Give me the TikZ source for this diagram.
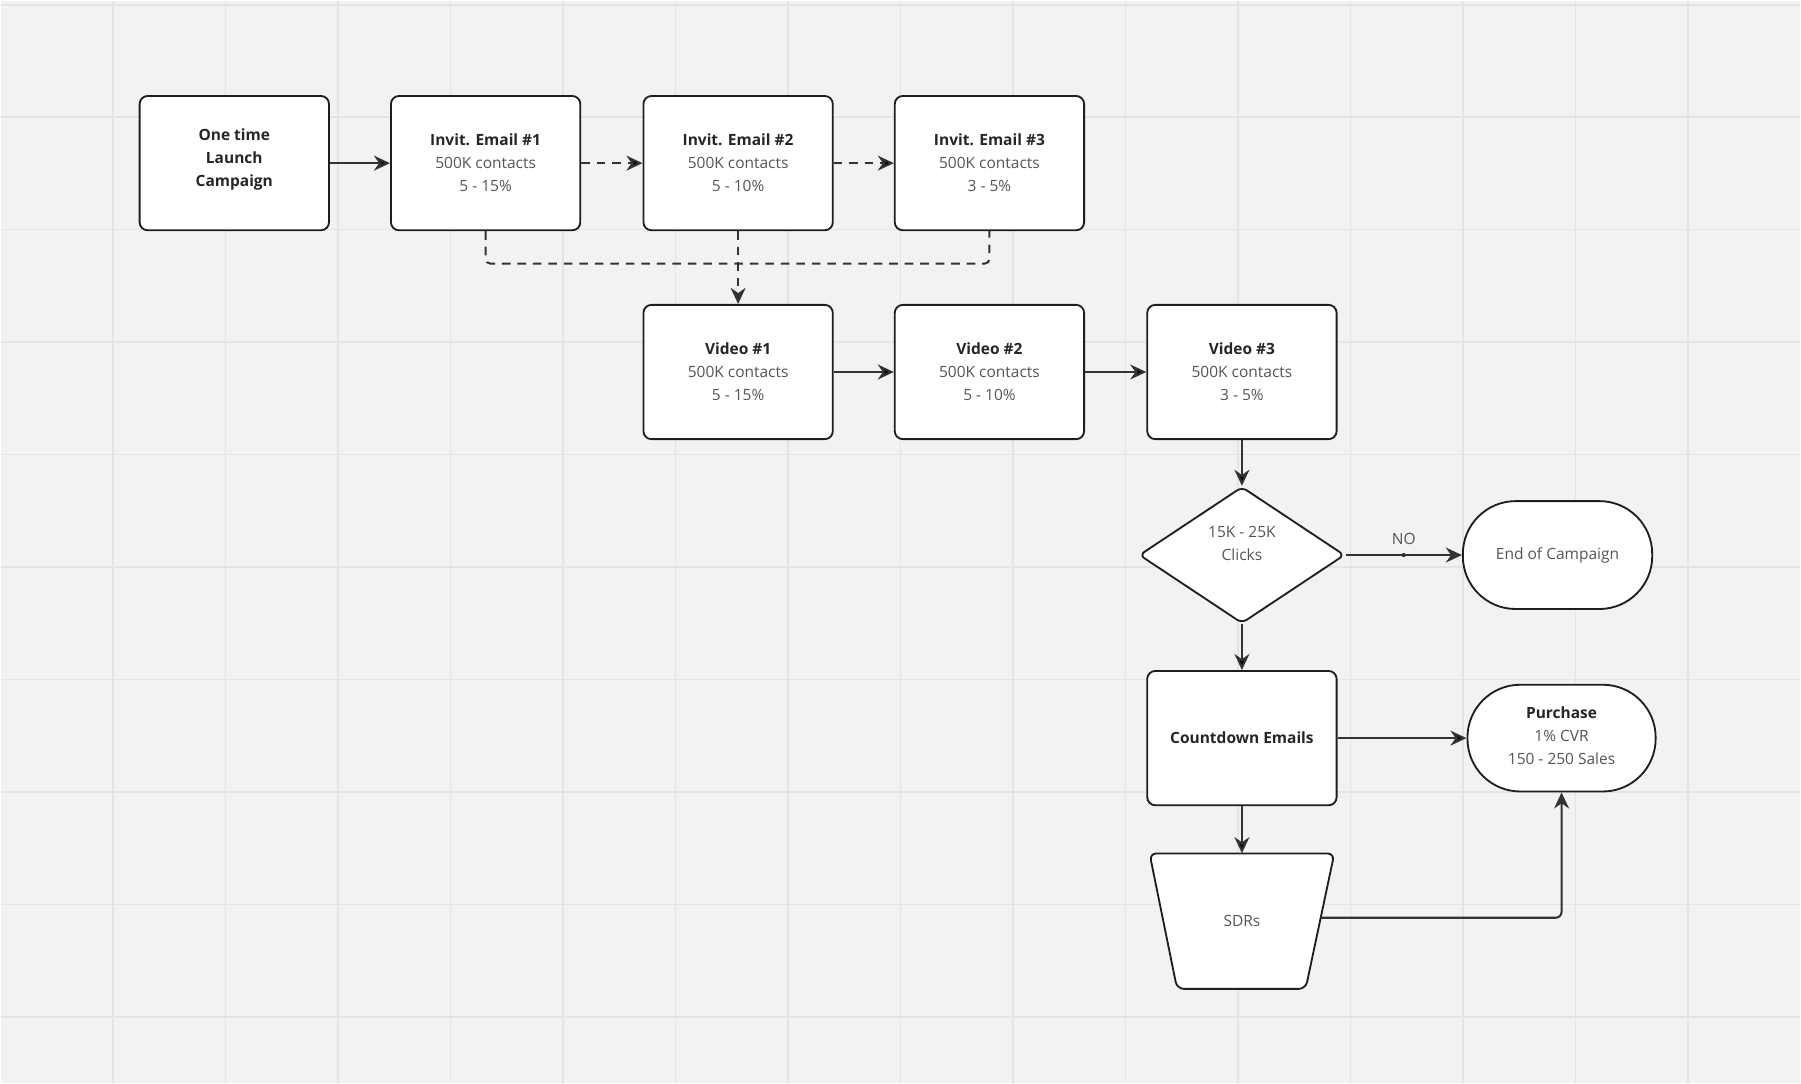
\documentclass[tikz,border=0pt]{standalone}
\usepackage{fontspec}
\setmainfont{Open Sans}
\usetikzlibrary{arrows.meta}
\usetikzlibrary{shapes.geometric}
\definecolor{bgcol}{HTML}{F2F2F2}
\definecolor{gridcol}{HTML}{E4E4E4}
\definecolor{edgecol}{HTML}{1E1E1E}
\definecolor{linkcol}{HTML}{333333}
\definecolor{headcol}{HTML}{262626}
\definecolor{textcol}{HTML}{555555}
\newcommand{\boxhead}[1]{{\color{headcol}\bfseries #1}}

\begin{document}
\begin{tikzpicture}[x=1pt, y=-1pt, font=\fontsize{13.5}{20}\selectfont]
\tikzset{card/.style={draw=edgecol, fill=white, line width=1.6pt, rounded corners=7pt, minimum width=165pt, minimum height=117pt, align=center, text=textcol}}
\tikzset{pill/.style={card, rounded corners=46pt, minimum height=94pt}}
\tikzstyle{pointer} = [-{Stealth[length=14pt, width=13pt, inset=4.5pt]}, draw=linkcol, line width=1.8pt]
\tikzstyle{dashy} = [draw=linkcol, line width=1.8pt, dash pattern=on 7.5pt off 6pt]
\fill[bgcol] (0,0) rectangle (1568,943);
\foreach \x in {1,...,15} \draw[gridcol, line width=1.3pt] (98*\x,0) -- (98*\x,943);
\foreach \y in {0,...,9} \draw[gridcol, line width=1.3pt] (0,3.5+98*\y) -- (1568,3.5+98*\y);
\useasboundingbox (0,0) rectangle (1568,943);

\node[card] (start) at (203.5,141.5) {\boxhead{One time}\\\boxhead{Launch}\\\boxhead{Campaign}\\[-10pt]\mbox{}};
\node[card] (inv1) at (422.5,141.5) {\boxhead{Invit. Email \#1}\\500K contacts\\5 - 15\%};
\node[card] (inv2) at (642.5,141.5) {\boxhead{Invit. Email \#2}\\500K contacts\\5 - 10\%};
\node[card] (inv3) at (861.5,141.5) {\boxhead{Invit. Email \#3}\\500K contacts\\3 - 5\%};
\node[card] (vid1) at (642.5,323.5) {\boxhead{Video \#1}\\500K contacts\\5 - 15\%};
\node[card] (vid2) at (861.5,323.5) {\boxhead{Video \#2}\\500K contacts\\5 - 10\%};
\node[card] (vid3) at (1081.5,323.5) {\boxhead{Video \#3}\\500K contacts\\3 - 5\%};
\node[card, diamond, aspect=1.5, rounded corners=5pt, minimum width=179pt, minimum height=119pt, inner sep=0pt] (clk) at (1081.5,483) {15K - 25K\\Clicks\\\mbox{}};
\node[pill] (endc) at (1356.5,483) {End of Campaign};
\node[card] (cnt) at (1081.5,642.5) {\boxhead{Countdown Emails}};
\node[pill, minimum width=164pt, minimum height=93pt] (pur) at (1360,642.5) {\boxhead{Purchase}\\1\% CVR\\150 - 250 Sales\\[-16pt]\mbox{}};
\draw[draw=edgecol, fill=white, line width=1.6pt, rounded corners=6pt] (1001,743) -- (1162,743) -- (1137,861) -- (1025,861) -- cycle;
\node[minimum width=161pt, minimum height=118pt, text=textcol] (sdr) at (1081.5,802) {SDRs};
\coordinate (sdre) at (1150.1,799);
\coordinate (j1) at (422.5,229);
\coordinate (j3) at (861.5,229);

\draw [pointer] (start) edge (inv1);
\draw [dashy, pointer] (inv1) edge (inv2);
\draw [dashy, pointer] (inv2) edge (inv3);
\draw [dashy, rounded corners=4pt] (inv1) -- (j1) -- (j3) -- (inv3);
\draw [dashy, pointer] (inv2) -- (vid1);
\draw [pointer] (vid1) edge (vid2);
\draw [pointer] (vid2) edge (vid3);
\draw [pointer] (vid3) edge (clk);
\draw [pointer] (clk) -- (endc) node[midway, fill=linkcol, circle, inner sep=1.3pt] (nodot) {} node[midway, above=5pt, text=textcol] (nolbl) {NO};
\draw [pointer] (clk) edge (cnt);
\draw [pointer] (cnt) edge (pur);
\draw [pointer] (cnt) edge (sdr);
\draw [pointer, rounded corners=5pt] (sdre) -| (pur);
\end{tikzpicture}
\end{document}
